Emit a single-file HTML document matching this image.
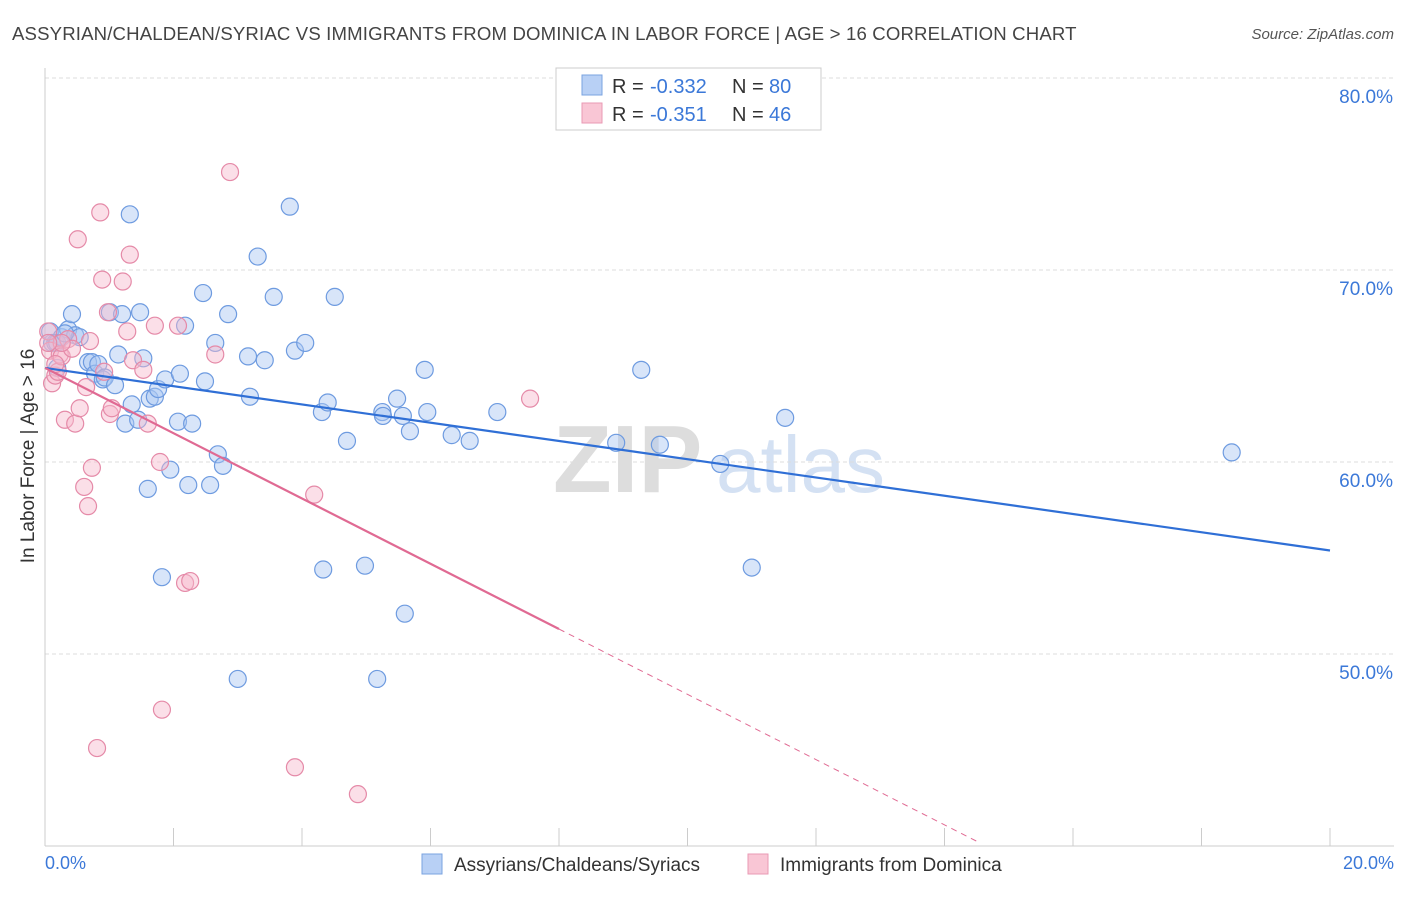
<!DOCTYPE html>
<html><head><meta charset="utf-8">
<style>
body{margin:0;background:#fff;font-family:"Liberation Sans",sans-serif;}
svg text{font-family:"Liberation Sans",sans-serif;}
</style></head>
<body>
<svg id="chart" width="1406" height="892" viewBox="0 0 1406 892" xmlns="http://www.w3.org/2000/svg">
<text x="12" y="40" font-size="18.6" fill="#444" letter-spacing="0.15">ASSYRIAN/CHALDEAN/SYRIAC VS IMMIGRANTS FROM DOMINICA IN LABOR FORCE | AGE &gt; 16 CORRELATION CHART</text>
<text x="1394" y="39" font-size="15" fill="#555" text-anchor="end" font-style="italic">Source: ZipAtlas.com</text>
<text x="553" y="492" font-size="96" fill="#ddd" font-family="Liberation Serif" font-weight="bold">ZIP</text>
<text x="716" y="492" font-size="80" fill="#d4e1f3">atlas</text>
<g id="grid"></g>
<line x1="45" y1="846" x2="1394" y2="846" stroke="#ccc"/>
<line x1="45" y1="68" x2="45" y2="846" stroke="#ccc"/>
<g id="xticks"></g>
<text transform="translate(34,456) rotate(-90)" font-size="19" fill="#333" text-anchor="middle">In Labor Force | Age &gt; 16</text>
<text x="45" y="869" font-size="18" fill="#3b78d8">0.0%</text>
<text x="1394" y="869" font-size="18" fill="#3b78d8" text-anchor="end">20.0%</text>
<g id="pts"></g>
<g id="trends"></g>
<g>
<rect x="556" y="68" width="265" height="62" fill="#fff" stroke="#ccc"/>
<rect x="582" y="75" width="20" height="20" fill="#b8d0f5" stroke="#7aa3e0"/>
<rect x="582" y="103" width="20" height="20" fill="#f9c6d5" stroke="#e99ab4"/>
<text x="612" y="93" font-size="20" fill="#333">R =</text>
<text x="650" y="93" font-size="20" fill="#3b78d8">-0.332</text>
<text x="732" y="93" font-size="20" fill="#333">N =</text>
<text x="769" y="93" font-size="20" fill="#3b78d8">80</text>
<text x="612" y="121" font-size="20" fill="#333">R =</text>
<text x="650" y="121" font-size="20" fill="#3b78d8">-0.351</text>
<text x="732" y="121" font-size="20" fill="#333">N =</text>
<text x="769" y="121" font-size="20" fill="#3b78d8">46</text>
</g>
<g>
<rect x="422" y="854" width="20" height="20" fill="#b8d0f5" stroke="#7aa3e0"/>
<text x="454" y="871" font-size="19" fill="#333">Assyrians/Chaldeans/Syriacs</text>
<rect x="748" y="854" width="20" height="20" fill="#f9c6d5" stroke="#e99ab4"/>
<text x="780" y="871" font-size="19" fill="#333">Immigrants from Dominica</text>
</g>
</svg>
<script>
const yTicks=[50,60,70,80];
const blueX=[0.08,0.11,0.16,0.19,0.26,0.36,0.42,0.47,0.54,0.67,0.73,0.78,0.83,0.90,0.93,1.01,1.09,1.14,1.20,1.25,1.32,1.35,1.45,1.48,1.53,1.60,1.63,1.71,1.76,1.82,1.87,1.95,2.07,2.10,2.18,2.23,2.29,2.46,2.49,2.57,2.65,2.69,2.77,2.85,3.00,3.16,3.19,3.31,3.42,3.56,3.81,3.89,4.05,4.31,4.33,4.40,4.51,4.70,4.98,5.17,5.25,5.26,5.48,5.57,5.60,5.68,5.91,5.95,6.33,6.61,7.04,8.89,9.28,9.57,10.51,11.00,11.52,18.47,0.19,0.31];
const blueY=[66.8,66.2,66.2,64.9,66.5,66.9,67.7,66.6,66.5,65.2,65.2,64.6,65.1,64.3,64.4,67.8,64.0,65.6,67.7,62.0,72.9,63.0,62.2,67.8,65.4,58.6,63.3,63.4,63.8,54.0,64.3,59.6,62.1,64.6,67.1,58.8,62.0,68.8,64.2,58.8,66.2,60.4,59.8,67.7,48.7,65.5,63.4,70.7,65.3,68.6,73.3,65.8,66.2,62.6,54.4,63.1,68.6,61.1,54.6,48.7,62.6,62.4,63.3,62.4,52.1,61.6,64.8,62.6,61.4,61.1,62.6,61.0,64.8,60.9,59.9,54.5,62.3,60.5,66.2,66.7];
const pinkX=[0.05,0.08,0.11,0.16,0.20,0.23,0.26,0.31,0.36,0.42,0.47,0.51,0.54,0.61,0.64,0.67,0.70,0.73,0.81,0.86,0.89,0.92,0.98,1.01,1.04,1.21,1.28,1.32,1.37,1.53,1.60,1.71,1.79,1.82,2.07,2.18,2.26,2.65,2.88,3.89,4.19,4.87,7.55,0.26,0.16,0.05];
const pinkY=[66.8,65.8,64.1,64.5,64.7,65.6,65.5,62.2,66.4,65.9,62.0,71.6,62.8,58.7,63.9,57.7,66.3,59.7,45.1,73.0,69.5,64.7,67.8,62.5,62.8,69.4,66.8,70.8,65.3,64.8,62.0,67.1,60.0,47.1,67.1,53.7,53.8,65.6,75.1,44.1,58.3,42.7,63.3,66.2,65.1,66.2];
const sx=v=>45+v*64.25, sy=v=>462-(v-60)*19.2;
const NS='http://www.w3.org/2000/svg';
const grid=document.getElementById('grid');
yTicks.forEach(t=>{
 const l=document.createElementNS(NS,'line');
 
 
 l.setAttribute('x1',45);l.setAttribute('x2',1394);l.setAttribute('y1',sy(t));l.setAttribute('y2',sy(t));
 l.setAttribute('stroke','#ddd');l.setAttribute('stroke-dasharray','4,3');grid.appendChild(l);
 const tx=document.createElementNS(NS,'text');
 
 
 tx.setAttribute('x',1393);tx.setAttribute('y',sy(t)+25);tx.setAttribute('text-anchor','end');
 tx.setAttribute('font-size','19');tx.setAttribute('fill','#3b78d8');tx.textContent=t.toFixed(1)+'%';grid.appendChild(tx);
});
const xt=document.getElementById('xticks');
for(let i=1;i<=10;i++){
 const l=document.createElementNS(NS,'line');
 
 
 const x=sx(i*2);l.setAttribute('x1',x);l.setAttribute('x2',x);l.setAttribute('y1',828);l.setAttribute('y2',846);
 l.setAttribute('stroke','#ccc');xt.appendChild(l);
}
const pts=document.getElementById('pts');
function dot(x,y,fill,stroke,name){
 const c=document.createElementNS(NS,'circle');
 
 
 c.setAttribute('cx',sx(x));c.setAttribute('cy',sy(y));c.setAttribute('r',8.5);
 c.setAttribute('fill',fill);c.setAttribute('fill-opacity','0.45');c.setAttribute('stroke',stroke);c.setAttribute('stroke-width','1.2');
 pts.appendChild(c);
}
blueX.forEach((x,i)=>dot(x,blueY[i],'#a9c6f2','#6e9be0','blue-point'));
pinkX.forEach((x,i)=>dot(x,pinkY[i],'#f7b9cc','#e58aa8','pink-point'));
const tr=document.getElementById('trends');
function line(x1,y1,x2,y2,col,w,dash,name){
 const l=document.createElementNS(NS,'line');
 
 
 l.setAttribute('x1',sx(x1));l.setAttribute('y1',sy(y1));l.setAttribute('x2',sx(x2));l.setAttribute('y2',sy(y2));
 l.setAttribute('stroke',col);l.setAttribute('stroke-width',w);if(dash)l.setAttribute('stroke-dasharray',dash);
 tr.appendChild(l);
}
const bA=64.9,bB=-0.4755, pA=64.9,pB=-1.7;
line(0,bA,20,bA+bB*20,'#2f6fd6',2.2,null,'blue-trend-line');
line(0,pA,8.0,pA+pB*8.0,'#e06a93',2.2,null,'pink-trend-line');
line(8.0,pA+pB*8.0,14.55,pA+pB*14.55,'#e06a93',1,'6,5','pink-trend-extension');
</script>
</body></html>
